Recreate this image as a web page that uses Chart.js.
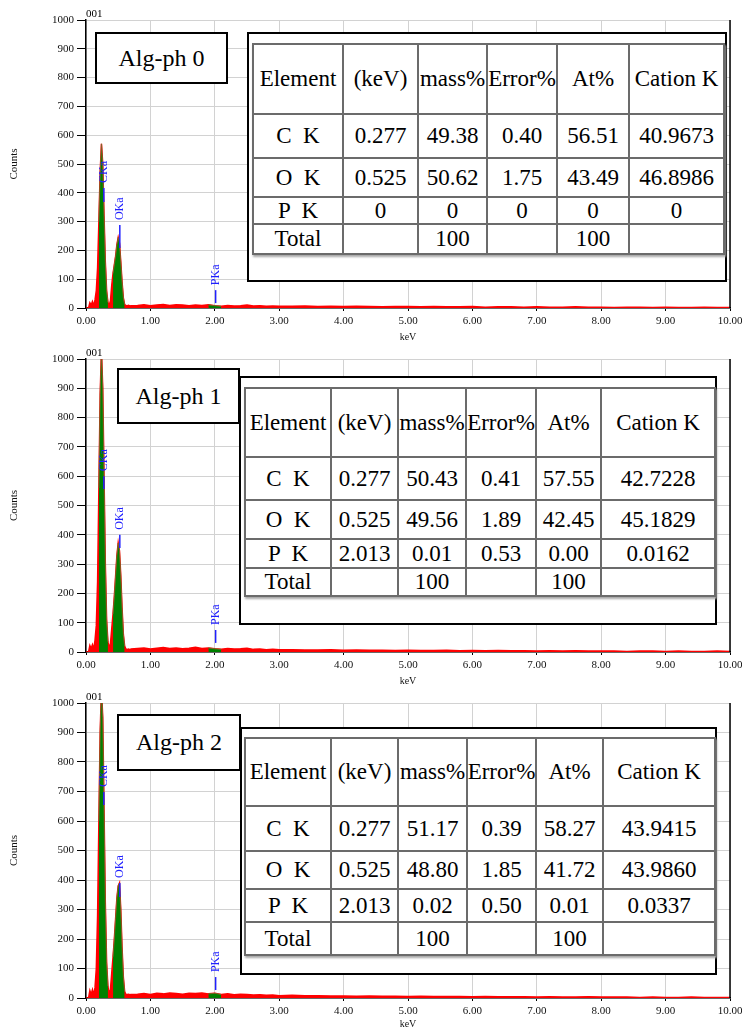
<!DOCTYPE html>
<html>
<head>
<meta charset="utf-8">
<script src="https://cdn.jsdelivr.net/npm/chart.js@4.4.1/dist/chart.umd.min.js"></script>
<style>
body { margin: 0; background: #fff; }
#page { position: relative; width: 742px; height: 1030px; overflow: hidden; font-family: "Liberation Serif", serif; }
.panel { position: absolute; left: 0; width: 742px; }
.box { position: absolute; box-sizing: border-box; border: 2px solid #000; background: #fff; }
.tag { display: flex; align-items: center; justify-content: center; font-size: 24px; color: #000; }
.grid { position: absolute; border-left: 2px solid #6b6b6b; border-top: 2px solid #6b6b6b; box-shadow: 1px 2px 2px #a8a8a8; }
.cell { position: absolute; box-sizing: border-box; border-right: 2px solid #6b6b6b; border-bottom: 2px solid #6b6b6b;
        display: flex; align-items: center; justify-content: center; font-size: 23px; white-space: pre; color: #000; }
</style>
</head>
<body>
<div id="page">
  <div class="panel" style="top:0;height:343px"><canvas id="spec0"></canvas></div>
  <div class="panel" style="top:339px;height:348px"><canvas id="spec1"></canvas></div>
  <div class="panel" style="top:683px;height:347px"><canvas id="spec2"></canvas></div>
</div>
<script>
// Trục năng lượng (keV): vùng đỉnh chia mịn, vùng nền chia thưa
const keVPeak = [0.00, 0.02, 0.04, 0.06, 0.08, 0.10, 0.12, 0.14, 0.16, 0.18, 0.20, 0.22, 0.24, 0.26, 0.28, 0.30, 0.32, 0.34,
                 0.36, 0.38, 0.40, 0.42, 0.44, 0.46, 0.48, 0.50, 0.52, 0.54, 0.56, 0.58, 0.60, 0.62, 0.64, 0.66, 0.68, 0.70];
const keVBack = [0.8, 0.9, 1.0, 1.1, 1.2, 1.3, 1.4, 1.5, 1.6, 1.7, 1.8, 1.9, 2.0, 2.1, 2.2, 2.3, 2.4, 2.5, 2.6, 2.7, 2.8, 2.9, 3.0,
                 3.2, 3.4, 3.6, 3.8, 4.0, 4.2, 4.4, 4.6, 4.8, 5.0, 5.2, 5.4, 5.6, 5.8, 6.0, 6.2, 6.4, 6.6, 6.8, 7.0,
                 7.2, 7.4, 7.6, 7.8, 8.0, 8.2, 8.4, 8.6, 8.8, 9.0, 9.2, 9.4, 9.6, 9.8, 10.0];

// Số đếm (Counts) từng mẫu
const peakCounts0 = [0, 0, 0, 18, 10, 22, 8, 28, 60, 140, 300, 470, 570, 500, 320, 160, 60, 20,
                     10, 25, 80, 120, 150, 180, 220, 245, 225, 160, 90, 35, 12, 9, 8, 9, 7, 8];
const backCounts0 = [9, 11, 8, 10, 12, 9, 11, 10, 8, 10, 9, 11, 8, 6, 9, 7, 8, 10, 7, 8, 6, 7, 6,
                     6, 7, 5, 6, 5, 6, 5, 4, 5, 5, 4, 5, 4, 4, 5, 3, 4, 4, 3, 4, 3, 3, 4, 3, 3, 2, 3, 3, 2, 3, 2, 2, 3, 2, 2];

const peakCounts1 = [0, 0, 0, 22, 12, 25, 10, 40, 90, 240, 560, 880, 1030, 900, 600, 300, 110, 35,
                     12, 30, 80, 130, 190, 260, 330, 372, 345, 260, 150, 60, 20, 10, 9, 10, 8, 10];
const backCounts1 = [12, 14, 10, 13, 15, 12, 14, 11, 13, 16, 12, 14, 11, 9, 12, 10, 11, 13, 9, 10, 8, 9, 8,
                     8, 7, 7, 8, 6, 7, 6, 6, 5, 6, 5, 5, 6, 4, 5, 4, 5, 4, 4, 3, 4, 3, 4, 3, 3, 3, 2, 3, 3, 2, 3, 2, 2, 3, 2];

const peakCounts2 = [0, 0, 0, 25, 12, 28, 10, 35, 100, 280, 600, 900, 1050, 950, 640, 320, 120, 40,
                     14, 30, 85, 140, 200, 270, 340, 380, 390, 300, 170, 70, 22, 12, 12, 13, 11, 12];
const backCounts2 = [13, 15, 12, 16, 14, 17, 15, 13, 16, 15, 17, 14, 16, 12, 14, 11, 13, 12, 10, 11, 9, 10, 8,
                     9, 8, 8, 7, 7, 6, 7, 6, 6, 5, 6, 5, 5, 5, 4, 5, 4, 4, 4, 3, 4, 3, 3, 4, 3, 3, 3, 2, 3, 2, 2, 3, 2, 2, 2];

// Vùng ROI (tô xanh) theo keV
const roiStart = [0.20, 0.42, 1.9];
const roiEnd   = [0.34, 0.60, 2.1];

// Nhãn vạch phổ
const markLabels = ['CKa', 'OKa', 'PKa'];
const markKeV = [0.277, 0.525, 2.013];
const markLow0 = [368, 208, 17], markHigh0 = [417, 288, 62];
const markLow1 = [556, 355, 31], markHigh1 = [600, 400, 75];
const markLow2 = [654, 342, 27], markHigh2 = [698, 390, 71];

// Nhãn trục
const xTicks = [0, 1, 2, 3, 4, 5, 6, 7, 8, 9, 10];
const sampleNames = ['Alg-ph 0', 'Alg-ph 1', 'Alg-ph 2'];

// Bảng kết quả
const tableHeader = ['Element', '(keV)', 'mass%', 'Error%', 'At%', 'Cation K'];
const tableRows0 = [['C  K', '0.277', '49.38', '0.40', '56.51', '40.9673'],
                    ['O  K', '0.525', '50.62', '1.75', '43.49', '46.8986'],
                    ['P  K', '0', '0', '0', '0', '0'],
                    ['Total', '', '100', '', '100', '']];
const tableRows1 = [['C  K', '0.277', '50.43', '0.41', '57.55', '42.7228'],
                    ['O  K', '0.525', '49.56', '1.89', '42.45', '45.1829'],
                    ['P  K', '2.013', '0.01', '0.53', '0.00', '0.0162'],
                    ['Total', '', '100', '', '100', '']];
const tableRows2 = [['C  K', '0.277', '51.17', '0.39', '58.27', '43.9415'],
                    ['O  K', '0.525', '48.80', '1.85', '41.72', '43.9860'],
                    ['P  K', '2.013', '0.02', '0.50', '0.01', '0.0337'],
                    ['Total', '', '100', '', '100', '']];

// Vẽ khung phải, chữ "001" và các vạch nhãn phổ
const extras = {
    id: 'extras',
    afterDatasetsDraw(chart, args, opts) {
        const { ctx, chartArea: a, scales: { x, y } } = chart;
        ctx.save();
        ctx.strokeStyle = '#000';
        ctx.lineWidth = 1.5;
        ctx.beginPath();
        ctx.moveTo(a.right, a.top);
        ctx.lineTo(a.right, a.bottom);
        ctx.stroke();

        ctx.fillStyle = '#000';
        ctx.font = '11px "Liberation Serif"';
        ctx.textAlign = 'left';
        ctx.textBaseline = 'bottom';
        ctx.fillText('001', a.left, a.top);

        ctx.strokeStyle = '#2020ff';
        ctx.fillStyle = '#2020ff';
        ctx.lineWidth = 1.5;
        ctx.font = '12px "Liberation Serif"';
        opts.labels.forEach((lab, i) => {
            const px = x.getPixelForValue(opts.keV[i]);
            const y0 = y.getPixelForValue(opts.low[i]);
            const y1 = y.getPixelForValue(opts.high[i]);
            ctx.beginPath();
            ctx.moveTo(px, y0);
            ctx.lineTo(px, y1);
            ctx.stroke();
            ctx.save();
            ctx.translate(px, y1 - 5);
            ctx.rotate(-Math.PI / 2);
            ctx.textAlign = 'left';
            ctx.textBaseline = 'middle';
            ctx.fillText(lab, 0, 0);
            ctx.restore();
        });
        ctx.restore();
    }
};

function makeSpectrum(id, peakCounts, backCounts, low, high, xAxisHeight) {
    const keV = keVPeak.concat(keVBack);
    const counts = peakCounts.concat(backCounts);
    const full = keV.map((e, i) => ({ x: e, y: counts[i] }));
    const roi = keV.map((e, i) => {
        const inRoi = roiStart.some((s, k) => e >= s - 1e-9 && e <= roiEnd[k] + 1e-9);
        return { x: e, y: inRoi ? counts[i] : null };
    });

    return new Chart(document.getElementById(id).getContext('2d'), {
        type: 'line',
        data: {
            datasets: [
                {
                    data: roi,
                    order: 0,
                    borderColor: 'rgba(130,100,40,0.9)',
                    backgroundColor: '#008000',
                    borderWidth: 1,
                    fill: 'origin',
                    pointRadius: 0,
                    tension: 0,
                    spanGaps: false
                },
                {
                    data: full,
                    order: 1,
                    borderColor: '#ff0000',
                    backgroundColor: '#ff0000',
                    borderWidth: 1.5,
                    fill: 'origin',
                    pointRadius: 0,
                    tension: 0
                }
            ]
        },
        options: {
            responsive: true,
            maintainAspectRatio: false,
            animation: false,
            layout: { padding: { top: 20, right: 12, left: 0, bottom: 0 } },
            plugins: {
                legend: { display: false },
                tooltip: { enabled: false },
                extras: { labels: markLabels, keV: markKeV, low: low, high: high }
            },
            scales: {
                x: {
                    type: 'linear',
                    min: 0,
                    max: 10,
                    afterBuildTicks: (s) => { s.ticks = xTicks.map(v => ({ value: v })); },
                    afterFit: (s) => { s.height = xAxisHeight; s.paddingLeft = 0; s.paddingRight = 0; },
                    ticks: {
                        autoSkip: false,
                        maxRotation: 0,
                        padding: 4,
                        color: '#111',
                        font: { family: 'Liberation Serif', size: 11 },
                        callback: v => Number(v).toFixed(2)
                    },
                    grid: { color: '#d2d2d2', tickColor: '#000', tickLength: 3 },
                    border: { color: '#000', width: 1.5 },
                    title: {
                        display: true,
                        text: 'keV',
                        color: '#111',
                        font: { family: 'Liberation Serif', size: 10 },
                        padding: { top: 4, bottom: 0 }
                    }
                },
                y: {
                    min: 0,
                    max: 1000,
                    afterFit: (s) => { s.width = 86; },
                    ticks: {
                        stepSize: 100,
                        padding: 3,
                        color: '#111',
                        font: { family: 'Liberation Serif', size: 11 },
                        callback: v => String(v)
                    },
                    grid: { color: '#d2d2d2', tickColor: '#000', tickLength: 9 },
                    border: { color: '#000', width: 1.5 },
                    title: {
                        display: true,
                        text: 'Counts',
                        color: '#111',
                        font: { family: 'Liberation Serif', size: 11 },
                        padding: { top: 8, bottom: 0 }
                    }
                }
            }
        },
        plugins: [extras]
    });
}

makeSpectrum('spec0', peakCounts0, backCounts0, markLow0, markHigh0, 35);
makeSpectrum('spec1', peakCounts1, backCounts1, markLow1, markHigh1, 35);
makeSpectrum('spec2', peakCounts2, backCounts2, markLow2, markHigh2, 32);

// Hộp tên mẫu và bảng phân tích đặt đè lên biểu đồ
const page = document.getElementById('page');

function addBox(l, t, w, h, cls) {
    const d = document.createElement('div');
    d.className = 'box ' + (cls || '');
    d.style.cssText = `left:${l}px;top:${t}px;width:${w}px;height:${h}px`;
    page.appendChild(d);
    return d;
}

function addTable(l, t, cols, rows, body) {
    const all = [tableHeader].concat(body);
    const g = document.createElement('div');
    g.className = 'grid';
    const W = cols.reduce((a, b) => a + b, 0), H = rows.reduce((a, b) => a + b, 0);
    g.style.cssText = `left:${l}px;top:${t}px;width:${W}px;height:${H}px`;
    let yy = 0;
    all.forEach((row, r) => {
        let xx = 0;
        row.forEach((txt, c) => {
            const cell = document.createElement('div');
            cell.className = 'cell';
            cell.style.cssText = `left:${xx}px;top:${yy}px;width:${cols[c]}px;height:${rows[r]}px`;
            cell.textContent = txt;
            g.appendChild(cell);
            xx += cols[c];
        });
        yy += rows[r];
    });
    page.appendChild(g);
}

// Mẫu 0
addBox(247, 32, 480, 250);
addTable(252, 43, [90, 75, 69, 70, 72, 95], [70, 44, 39, 27, 30], tableRows0);
addBox(95, 32, 133, 52, 'tag').textContent = sampleNames[0];

// Mẫu 1
addBox(239, 376, 478, 249);
addTable(244, 387, [86, 67, 68, 70, 65, 114], [69, 43, 39, 29, 28], tableRows1);
addBox(117, 368, 123, 56, 'tag').textContent = sampleNames[1];

// Mẫu 2
addBox(240, 727, 477, 248);
addTable(244, 737, [86, 67, 69, 69, 67, 112], [68, 45, 38, 33, 33], tableRows2);
addBox(117, 714, 124, 57, 'tag').textContent = sampleNames[2];
</script>
</body>
</html>
